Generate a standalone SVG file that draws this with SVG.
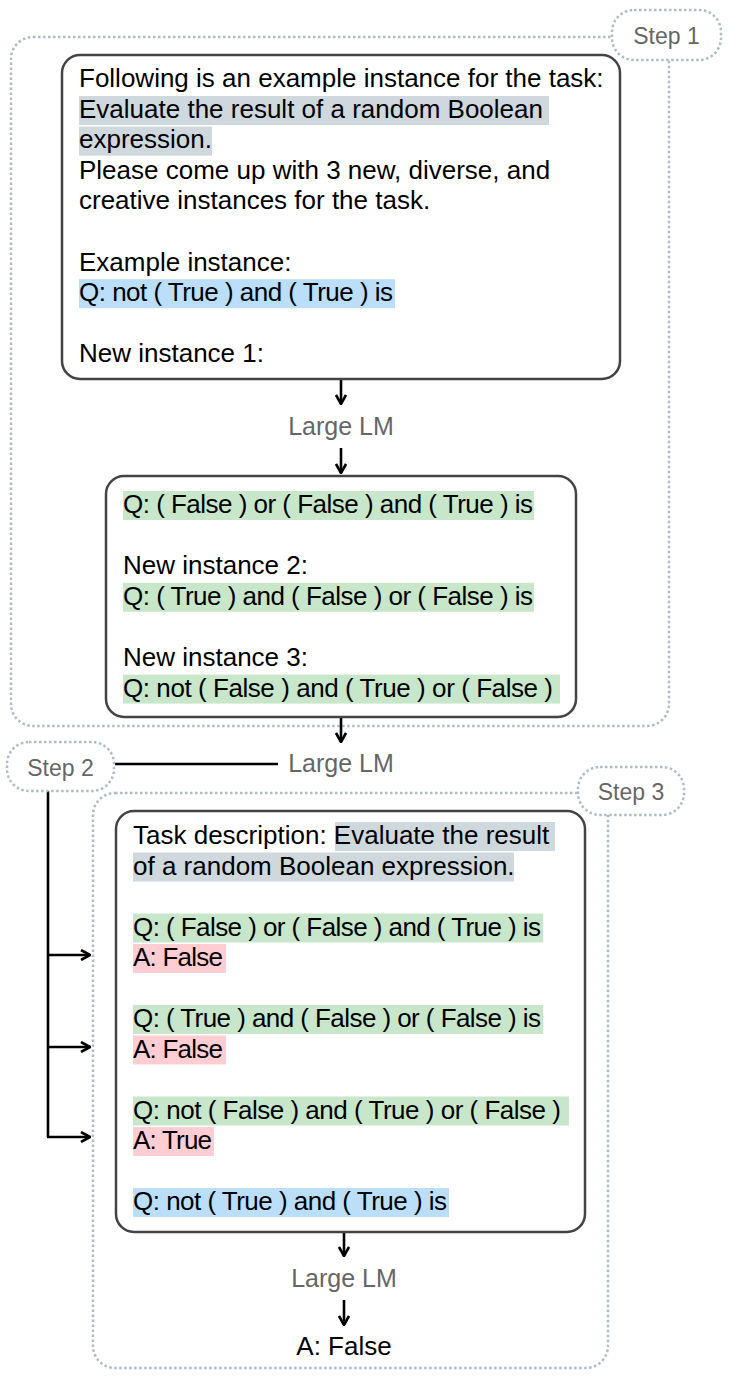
<svg xmlns="http://www.w3.org/2000/svg" width="730" height="1380" viewBox="0 0 730 1380">
<defs>
<style>
.t{font-family:"Liberation Sans",Arial,Helvetica,sans-serif;font-size:26px;fill:#000}
.lm{font-family:"Liberation Sans",Arial,Helvetica,sans-serif;font-size:25px;fill:#666;text-anchor:middle}
.st{font-family:"Liberation Sans",Arial,Helvetica,sans-serif;font-size:23px;fill:#666;text-anchor:middle}
.box{fill:#fff;stroke:#444;stroke-width:2.5}
.cont{fill:none;stroke:#adbcc6;stroke-width:2.5;stroke-dasharray:2.5 2.5}
.pill{fill:#fff;stroke:#adbcc6;stroke-width:2.5;stroke-dasharray:2.5 2.5}
.gray{fill:#cfd8dc}.blue{fill:#bbdefb}.green{fill:#c8e6c9}.pink{fill:#ffcdd2}
.c{fill:none;stroke:#000;stroke-width:2.6}
</style>
<marker id="ah" viewBox="0 0 12 12" refX="11" refY="6" markerWidth="12" markerHeight="12" markerUnits="userSpaceOnUse" orient="auto">
<path d="M2,1 L11,6 L2,11" fill="none" stroke="#000" stroke-width="2.6"/>
</marker>
</defs>
<rect width="730" height="1380" fill="#fff"/>

<g id="step1-container">
<rect class="cont" x="11" y="37" width="658" height="689" rx="22"/>
</g>
<g id="step3-container">
<rect class="cont" x="93" y="793" width="515" height="575" rx="22"/>
</g>

<g id="connectors">
<line class="c" x1="341" y1="380" x2="341" y2="404" marker-end="url(#ah)"/>
<line class="c" x1="341" y1="448" x2="341" y2="473" marker-end="url(#ah)"/>
<line class="c" x1="341" y1="718" x2="341" y2="742" marker-end="url(#ah)"/>
<line class="c" x1="115" y1="764" x2="278" y2="764"/>
<polyline class="c" points="48,791 48,1137"/>
<line class="c" x1="47" y1="955" x2="90" y2="955" marker-end="url(#ah)"/>
<line class="c" x1="47" y1="1047" x2="90" y2="1047" marker-end="url(#ah)"/>
<line class="c" x1="47" y1="1137" x2="90" y2="1137" marker-end="url(#ah)"/>
<line class="c" x1="344" y1="1233" x2="344" y2="1256" marker-end="url(#ah)"/>
<line class="c" x1="344" y1="1300" x2="344" y2="1325" marker-end="url(#ah)"/>
</g>

<g id="step1-label">
<rect class="pill" x="612" y="10" width="109" height="50" rx="22"/>
<text class="st" x="666.5" y="44">Step 1</text>
</g>
<g id="step2-label">
<rect class="pill" x="7" y="742" width="107" height="49" rx="22"/>
<text class="st" x="60.5" y="776">Step 2</text>
</g>
<g id="step3-label">
<rect class="pill" x="578" y="767" width="106" height="48" rx="22"/>
<text class="st" x="631" y="800">Step 3</text>
</g>

<g id="prompt-box">
<rect class="box" x="62" y="55" width="558" height="324" rx="18"/>
<rect class="gray" x="79" y="96" width="470" height="29"/>
<rect class="gray" x="79" y="126.6" width="133" height="29"/>
<rect class="blue" x="79" y="279.2" width="316" height="29"/>
<text class="t" x="79" y="87">Following is an example instance for the task:</text>
<text class="t" x="79" y="117.6">Evaluate the result of a random Boolean</text>
<text class="t" x="79" y="148.2">expression.</text>
<text class="t" x="79" y="178.8">Please come up with 3 new, diverse, and</text>
<text class="t" x="79" y="209.4">creative instances for the task.</text>
<text class="t" x="79" y="270.6">Example instance:</text>
<text class="t" x="79" y="301.2" textLength="314" lengthAdjust="spacing">Q: not ( True ) and ( True ) is</text>
<text class="t" x="79" y="362.4">New instance 1:</text>
</g>

<g id="llm1">
<text class="lm" x="341" y="435">Large LM</text>
</g>

<g id="generated-box">
<rect class="box" x="106" y="476" width="470" height="241" rx="18"/>
<rect class="green" x="123" y="491" width="411" height="29"/>
<rect class="green" x="123" y="582.8" width="411" height="29"/>
<rect class="green" x="123" y="674.6" width="437" height="29"/>
<text class="t" x="123" y="513" textLength="410" lengthAdjust="spacing">Q: ( False ) or ( False ) and ( True ) is</text>
<text class="t" x="123" y="574.2">New instance 2:</text>
<text class="t" x="123" y="604.8" textLength="410" lengthAdjust="spacing">Q: ( True ) and ( False ) or ( False ) is</text>
<text class="t" x="123" y="666">New instance 3:</text>
<text class="t" x="123" y="696.6" textLength="430" lengthAdjust="spacing">Q: not ( False ) and ( True ) or ( False )</text>
</g>

<g id="llm2">
<text class="lm" x="341" y="772">Large LM</text>
</g>

<g id="fewshot-box">
<rect class="box" x="116" y="811" width="469" height="421" rx="18"/>
<rect class="gray" x="335" y="822" width="220" height="29"/>
<rect class="gray" x="133" y="852.5" width="381" height="29"/>
<rect class="green" x="133" y="913.5" width="410" height="29"/>
<rect class="pink" x="133" y="944" width="93" height="29"/>
<rect class="green" x="133" y="1005" width="410" height="29"/>
<rect class="pink" x="133" y="1035.5" width="93" height="29"/>
<rect class="green" x="133" y="1096.5" width="436" height="29"/>
<rect class="pink" x="133" y="1127" width="81" height="29"/>
<rect class="blue" x="133" y="1188" width="316" height="29"/>
<text class="t" x="133" y="844">Task description: Evaluate the result</text>
<text class="t" x="133" y="874.5">of a random Boolean expression.</text>
<text class="t" x="133" y="935.5" textLength="408" lengthAdjust="spacing">Q: ( False ) or ( False ) and ( True ) is</text>
<text class="t" x="133" y="966" textLength="90" lengthAdjust="spacing">A: False</text>
<text class="t" x="133" y="1027" textLength="408" lengthAdjust="spacing">Q: ( True ) and ( False ) or ( False ) is</text>
<text class="t" x="133" y="1057.5" textLength="90" lengthAdjust="spacing">A: False</text>
<text class="t" x="133" y="1118.5" textLength="428" lengthAdjust="spacing">Q: not ( False ) and ( True ) or ( False )</text>
<text class="t" x="133" y="1149" textLength="79" lengthAdjust="spacing">A: True</text>
<text class="t" x="133" y="1210" textLength="314" lengthAdjust="spacing">Q: not ( True ) and ( True ) is</text>
</g>

<g id="llm3">
<text class="lm" x="344" y="1287">Large LM</text>
</g>

<g id="answer">
<text class="t" x="344" y="1355" text-anchor="middle">A: False</text>
</g>
</svg>
